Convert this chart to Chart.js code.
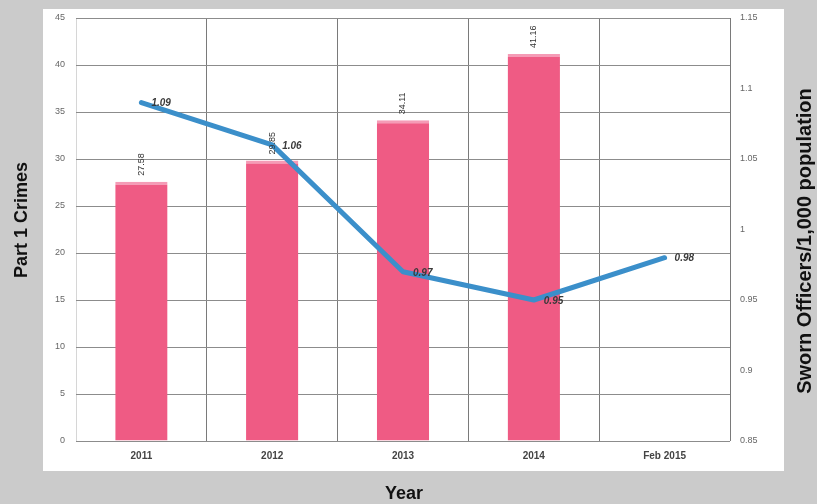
<!DOCTYPE html>
<html>
<head>
<meta charset="utf-8">
<script src="https://cdn.jsdelivr.net/npm/chart.js@4"></script>
<style>
  html, body { margin: 0; padding: 0; background: #cbcbcb; }
  #wrap { width: 817px; height: 504px; position: relative; }
</style>
</head>
<body>
<div id="wrap"><canvas id="grafico"></canvas></div>
<script>
// --- DADOS ---
const anos = ['2011', '2012', '2013', '2014', 'Feb 2015'];
const crimesParte1 = [27.58, 29.85, 34.11, 41.16, null];
const policiais = [1.09, 1.06, 0.97, 0.95, 0.98];
const ticksCrimes = [0, 5, 10, 15, 20, 25, 30, 35, 40, 45];
const ticksPoliciais = [0.85, 0.9, 0.95, 1, 1.05, 1.1, 1.15];

const fonte = "'Liberation Sans', Arial, sans-serif";

// fundo cinza + painel branco
const fundo = {
    id: 'fundo',
    beforeDraw(chart) {
        const ctx = chart.ctx;
        ctx.save();
        ctx.fillStyle = '#cbcbcb';
        ctx.fillRect(0, 0, chart.width, chart.height);
        ctx.fillStyle = '#ffffff';
        ctx.fillRect(43, 9, 741, 462);
        ctx.restore();
    }
};

// rótulos das barras (girados) e da linha (itálico)
const rotulos = {
    id: 'rotulos',
    afterDatasetsDraw(chart) {
        const ctx = chart.ctx;
        ctx.save();
        const barras = chart.getDatasetMeta(0);
        ctx.fillStyle = '#333';
        ctx.font = '9px ' + fonte;
        ctx.textAlign = 'left';
        ctx.textBaseline = 'middle';
        barras.data.forEach((el, i) => {
            if (crimesParte1[i] == null) return;
            ctx.save();
            ctx.translate(el.x, el.y - 6);
            ctx.rotate(-Math.PI / 2);
            ctx.fillText(crimesParte1[i].toFixed(2), 0, 0);
            ctx.restore();
        });
        const linha = chart.getDatasetMeta(1);
        ctx.font = 'italic bold 10px ' + fonte;
        ctx.fillStyle = '#3a3a3a';
        linha.data.forEach((pt, i) => {
            ctx.fillText(policiais[i].toFixed(2), pt.x + 10, pt.y + 1);
        });
        ctx.restore();
    },
    afterDraw(chart) {
        const ctx = chart.ctx;
        ctx.save();
        ctx.fillStyle = '#111';
        ctx.textAlign = 'center';
        ctx.textBaseline = 'middle';
        ctx.font = 'bold 18px ' + fonte;
        ctx.fillText('Year', 404, 494);

        ctx.save();
        ctx.translate(22, 220);
        ctx.rotate(-Math.PI / 2);
        ctx.fillText('Part 1 Crimes', 0, 0);
        ctx.restore();

        ctx.save();
        ctx.translate(805, 241);
        ctx.rotate(-Math.PI / 2);
        ctx.font = 'bold 20px ' + fonte;
        ctx.fillText('Sworn Officers/1,000 population', 0, 0);
        ctx.restore();
        ctx.restore();
    }
};

const ctx = document.getElementById('grafico').getContext('2d');
const grafico = new Chart(ctx, {
    data: {
        labels: anos,
        datasets: [
            {
                type: 'bar',
                data: crimesParte1,
                backgroundColor: '#ef5b84',
                borderColor: '#f59bb6',
                borderWidth: { top: 3, left: 0, right: 0, bottom: 0 },
                borderSkipped: 'bottom',
                categoryPercentage: 0.8,
                barPercentage: 0.5,
                yAxisID: 'y',
                order: 1
            },
            {
                type: 'line',
                data: policiais,
                borderColor: '#3b8fca',
                borderWidth: 5,
                borderCapStyle: 'round',
                borderJoinStyle: 'round',
                pointRadius: 0,
                tension: 0,
                yAxisID: 'y1',
                order: 0
            }
        ]
    },
    options: {
        responsive: true,
        maintainAspectRatio: false,
        animation: false,
        layout: { padding: { top: 18, left: 0, right: 0, bottom: 0 } },
        plugins: { legend: { display: false }, tooltip: { enabled: false } },
        scales: {
            x: {
                offset: true,
                afterFit: s => { s.height = 63; },
                border: { display: false },
                grid: {
                    offset: true,
                    drawTicks: false,
                    color: c => (c.index === 0 || c.index === anos.length) ? '#d6d6d6' : '#7a7a7a',
                    lineWidth: 1
                },
                ticks: { color: '#444', padding: 9, font: { family: fonte, size: 10, weight: 'bold' } }
            },
            y: {
                position: 'left',
                min: 0,
                max: 45,
                afterFit: s => { s.width = 76; },
                afterBuildTicks: s => { s.ticks = ticksCrimes.map(v => ({ value: v })); },
                border: { display: false },
                grid: { drawTicks: false, color: '#8c8c8c', lineWidth: 1 },
                ticks: { color: '#666', padding: 11, font: { family: fonte, size: 9 } }
            },
            y1: {
                position: 'right',
                min: 0.85,
                max: 1.15,
                afterFit: s => { s.width = 87; },
                afterBuildTicks: s => { s.ticks = ticksPoliciais.map(v => ({ value: v })); },
                border: { display: false },
                grid: { display: false, drawTicks: false },
                ticks: { color: '#666', padding: 10, font: { family: fonte, size: 9 }, callback: v => String(+v.toFixed(2)) }
            }
        }
    },
    plugins: [fundo, rotulos]
});
</script>
</body>
</html>
